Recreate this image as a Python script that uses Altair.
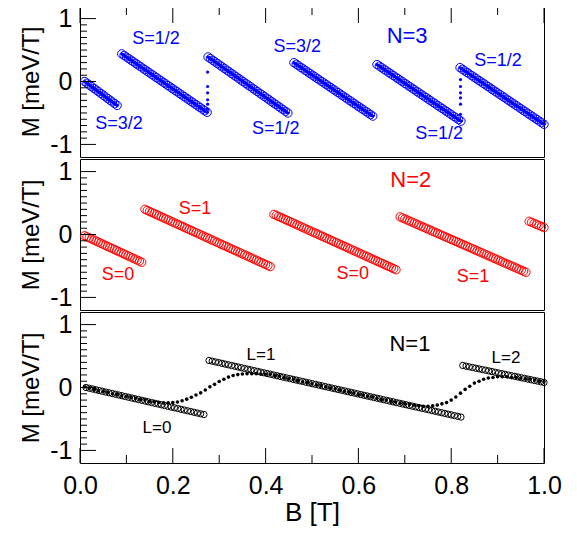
import altair as alt
import numpy as np
import pandas as pd

FONT = "Liberation Sans"

# ---------------- data ----------------
# N=3 (blue): straight runs of open circles: (B_start, M_start, B_end, M_end)
n3_segments = [
    (0.010, 0.00, 0.080, -0.38),
    (0.090, 0.44, 0.274, -0.49),
    (0.276, 0.39, 0.448, -0.50),
    (0.461, 0.30, 0.631, -0.55),
    (0.640, 0.27, 0.821, -0.63),
    (0.819, 0.22, 1.000, -0.68),
]
# N=3 small filled dots at the two steep jumps
n3_jump_B = [0.275, 0.275, 0.275, 0.275, 0.275, 0.275,
             0.820, 0.820, 0.820, 0.820, 0.820, 0.820]
n3_jump_M = [0.15, -0.08, -0.18, -0.29, -0.36, -0.44,
             0.03, -0.08, -0.18, -0.26, -0.36, -0.52]
n3_text = ["S=3/2", "S=1/2", "S=1/2", "S=3/2", "N=3", "S=1/2", "S=1/2"]
n3_text_B = [0.084, 0.164, 0.422, 0.468, 0.705, 0.774, 0.901]
n3_text_M = [-0.68, 0.68, -0.76, 0.55, 0.72, -0.83, 0.33]

# N=2 (red)
n2_segments = [
    (0.010, -0.02, 0.133, -0.44),
    (0.140, 0.40, 0.410, -0.51),
    (0.418, 0.32, 0.681, -0.56),
    (0.690, 0.28, 0.961, -0.60),
    (0.968, 0.21, 1.000, 0.11),
]
n2_text = ["S=0", "S=1", "N=2", "S=0", "S=1"]
n2_text_B = [0.082, 0.248, 0.713, 0.588, 0.847]
n2_text_M = [-0.65, 0.40, 0.87, -0.62, -0.67]

# N=1 (black)
n1_segments = [
    (0.013, 0.00, 0.267, -0.43),
    (0.278, 0.43, 0.821, -0.47),
    (0.825, 0.35, 1.000, 0.08),
]
# filled dots, one every 0.01 T from 0.01 to 1.00
n1_dot_B = [round(0.01 * i, 2) for i in range(1, 101)]
n1_dot_M = [
    0.01, -0.01, -0.03, -0.05, -0.06, -0.08, -0.10, -0.11, -0.13, -0.14,
    -0.16, -0.17, -0.19, -0.20, -0.22, -0.23, -0.24, -0.245, -0.245, -0.24,
    -0.23, -0.21, -0.185, -0.155, -0.12, -0.085, -0.04, 0.01, 0.05, 0.095,
    0.13, 0.165, 0.19, 0.205, 0.215, 0.22, 0.22, 0.22, 0.215, 0.21,
    0.21, 0.19, 0.18, 0.16, 0.14, 0.13, 0.11, 0.09, 0.08, 0.06,
    0.04, 0.03, 0.01, -0.01, -0.02, -0.04, -0.06, -0.07, -0.09, -0.11,
    -0.12, -0.14, -0.15, -0.17, -0.19, -0.20, -0.22, -0.23, -0.25, -0.26,
    -0.27, -0.28, -0.29, -0.30, -0.30, -0.29, -0.28, -0.26, -0.24, -0.20,
    -0.15, -0.09, -0.03, 0.02, 0.07, 0.10, 0.13, 0.15, 0.16, 0.17,
    0.17, 0.17, 0.16, 0.16, 0.15, 0.14, 0.13, 0.12, 0.10, 0.09,
]
n1_text = ["L=0", "L=1", "N=1", "L=2"]
n1_text_B = [0.166, 0.39, 0.711, 0.918]
n1_text_M = [-0.65, 0.52, 0.69, 0.47]

x_major = [0.0, 0.2, 0.4, 0.6, 0.8, 1.0]
x_minor = [0.1, 0.3, 0.5, 0.7, 0.9]
y_major = [-1.0, 0.0, 1.0]
y_minor = [-0.9, -0.8, -0.7, -0.6, -0.5, -0.4, -0.3, -0.2, -0.1,
           0.1, 0.2, 0.3, 0.4, 0.5, 0.6, 0.7, 0.8, 0.9]


def runs(segments, step):
    """markers along each straight run between its read end points"""
    rows = []
    for b0, m0, b1, m1 in segments:
        n = max(2, int(round((b1 - b0) / step)) + 1)
        for t in np.linspace(0.0, 1.0, n):
            rows.append({"B": b0 + t * (b1 - b0), "M": m0 + t * (m1 - m0)})
    return pd.DataFrame(rows)


W, H = 464, 151
B_LO, B_HI = 0.0, 1.0
M_LO, M_HI = -1.2, 1.2
PX_B = (B_HI - B_LO) / W      # data units of B per pixel
PX_M = (M_HI - M_LO) / H      # data units of M per pixel


def tick_table(bottom, top):
    """inward tick marks as thin bars (lengths in pixels -> data units)"""
    rows = []
    for vals, ln in ((y_major, 16), (y_minor, 7)):
        for v in vals:
            rows.append({"x0": B_LO, "x1": B_LO + ln * PX_B,
                         "y0": v - 0.5 * PX_M, "y1": v + 0.5 * PX_M})
    if bottom:
        for vals, ln in ((x_major, 15), (x_minor, 8)):
            for v in vals:
                rows.append({"x0": v - 0.5 * PX_B, "x1": v + 0.5 * PX_B,
                             "y0": M_LO, "y1": M_LO + ln * PX_M})
    if top:
        for vals, ln in ((x_major, 17), (x_minor, 9)):
            for v in vals:
                rows.append({"x0": v - 0.5 * PX_B, "x1": v + 0.5 * PX_B,
                             "y0": M_HI - ln * PX_M, "y1": M_HI})
    return pd.DataFrame(rows)


X_SCALE = alt.Scale(domain=[B_LO, B_HI], nice=False, zero=False)
Y_SCALE = alt.Scale(domain=[M_LO, M_HI], nice=False, zero=False)

y_axis = alt.Axis(
    title="M [meV/T]", values=y_major, ticks=False, tickSize=0, domain=False,
    grid=False, labelFont=FONT, labelFontSize=25, labelColor="black",
    labelPadding=8, labelExpr="'' + datum.value", labelFlush=False,
    titleFont=FONT, titleFontSize=24, titleFontWeight="normal",
    titleColor="black", titlePadding=6,
)
x_axis = alt.Axis(
    title="B [T]", values=x_major, format=".1f", ticks=False, tickSize=0,
    domain=False, grid=False, labelFont=FONT, labelFontSize=25,
    labelColor="black", labelPadding=10, labelFlush=False,
    titleFont=FONT, titleFontSize=26, titleFontWeight="normal",
    titleColor="black", titlePadding=1,
)


def panel(color, circ_df, circ_size, dot_df, dot_size, text_df, text_size,
          name_label, name_size, bottom=False, top_ticks=False):
    xe = alt.X("B:Q", scale=X_SCALE, axis=x_axis if bottom else None)
    ye = alt.Y("M:Q", scale=Y_SCALE, axis=y_axis)
    xn = alt.X("B:Q", scale=X_SCALE, axis=None)
    yn = alt.Y("M:Q", scale=Y_SCALE, axis=None)

    layers = []
    circles = alt.Chart(circ_df).mark_point(
        shape="circle", filled=False, size=circ_size, strokeWidth=1,
        color=color, opacity=1,
    ).encode(x=xe, y=ye)
    layers.append(circles)
    if dot_df is not None:
        layers.append(
            alt.Chart(dot_df).mark_point(
                shape="circle", filled=True, size=dot_size, color=color,
                opacity=1, strokeWidth=0,
            ).encode(x=xn, y=yn)
        )
    ticks = tick_table(bottom, top_ticks)
    layers.append(
        alt.Chart(ticks).mark_rect(color="black", opacity=1).encode(
            x=alt.X("x0:Q", scale=X_SCALE, axis=None),
            x2="x1:Q",
            y=alt.Y("y0:Q", scale=Y_SCALE, axis=None),
            y2="y1:Q",
        )
    )
    small = text_df[text_df["label"] != name_label]
    big = text_df[text_df["label"] == name_label]
    layers.append(
        alt.Chart(small).mark_text(
            font=FONT, fontSize=text_size, color=color, align="center",
            baseline="middle",
        ).encode(x=xn, y=yn, text="label:N")
    )
    layers.append(
        alt.Chart(big).mark_text(
            font=FONT, fontSize=name_size, color=color, align="center",
            baseline="middle",
        ).encode(x=xn, y=yn, text="label:N")
    )
    return (
        alt.layer(*layers)
        .resolve_axis(x="independent", y="independent")
        .properties(
            width=W, height=H,
            view=alt.ViewBackground(stroke="black", strokeWidth=1),
        )
    )


BLUE = "#0000ff"
RED = "#ff0000"
BLACK = "#000000"

n3_circ = runs(n3_segments, 0.005)
n3_dense = runs(n3_segments, 0.002)
n3_dots = pd.concat(
    [n3_dense, pd.DataFrame({"B": n3_jump_B, "M": n3_jump_M})],
    ignore_index=True,
)
n3_lab = pd.DataFrame({"label": n3_text, "B": n3_text_B, "M": n3_text_M})

n2_circ = runs(n2_segments, 0.005)
n2_lab = pd.DataFrame({"label": n2_text, "B": n2_text_B, "M": n2_text_M})

n1_circ = runs(n1_segments, 0.007)
n1_dots = pd.DataFrame({"B": n1_dot_B, "M": n1_dot_M})
n1_lab = pd.DataFrame({"label": n1_text, "B": n1_text_B, "M": n1_text_M})

top = panel(BLUE, n3_circ, 70, n3_dots, 10, n3_lab, 18, "N=3", 22,
            top_ticks=True)
mid = panel(RED, n2_circ, 70, None, 0, n2_lab, 18, "N=2", 22)
bot = panel(BLACK, n1_circ, 40, n1_dots, 13, n1_lab, 17, "N=1", 22,
            bottom=True)

chart = alt.vconcat(top, mid, bot, spacing=0).properties(
    padding={"top": -3, "left": 11, "right": 5, "bottom": 5}
).configure(background="white")

chart.save("out.html", embed_options={"renderer": "svg", "actions": False})
